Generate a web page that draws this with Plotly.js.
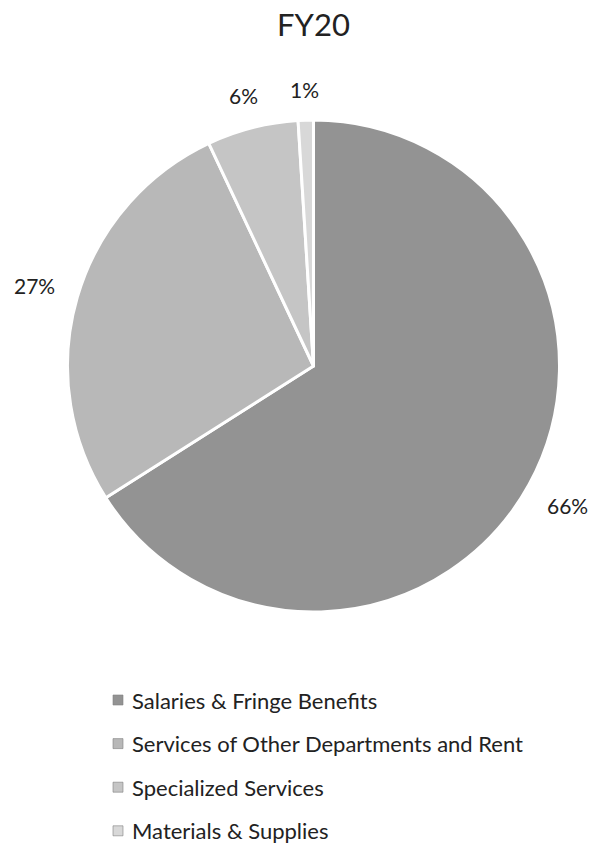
<!DOCTYPE html>
<html>
<head>
<meta charset="utf-8">
<script src="https://cdn.plot.ly/plotly-3.0.1.min.js"></script>
<style>
  html, body { margin: 0; padding: 0; background: #fff; }
  #chart { width: 596px; height: 846px; }
</style>
</head>
<body>
<div id="chart"></div>
<script>
// FY20 expenditure shares
const categories = [
  'Salaries & Fringe Benefits',
  'Services of Other Departments and Rent',
  'Specialized Services',
  'Materials & Supplies'
];
const shares = [66, 27, 6, 1];
const sliceColors = ['#939393', '#b8b8b8', '#c5c5c5', '#d8d8d8'];
const chartTitle = 'FY20';

const W = 596, H = 846;
const FONT = 'Lato, "Open Sans", sans-serif';
const TEXT_COLOR = '#222222';

// pie placement (pixels)
const pieLeft = 67, pieRight = 560, pieTop = 120, pieBottom = 612;
const cx = (pieLeft + pieRight) / 2;
const cy = (pieTop + pieBottom) / 2;
const radius = Math.min(pieRight - pieLeft, pieBottom - pieTop) / 2;

const labelFontSize = 21;
const labelGap = 22;

const measureCtx = document.createElement('canvas').getContext('2d');
function textWidth(str, size) {
  measureCtx.font = size + 'px ' + FONT;
  return measureCtx.measureText(str).width;
}

const total = shares.reduce((a, b) => a + b, 0);
const annotations = [];

// percentage labels placed just outside each slice, at the slice's mid angle
let cum = 0;
shares.forEach((v) => {
  const mid = (cum + v / 2) / total * 2 * Math.PI; // clockwise from 12 o'clock
  cum += v;
  const txt = Math.round(v / total * 100) + '%';
  const hw = textWidth(txt, labelFontSize) / 2;
  const hh = labelFontSize * 0.4;
  const sx = Math.sin(mid), sy = -Math.cos(mid);
  const ext = Math.abs(hw * sx) + Math.abs(hh * sy);
  const d = radius + labelGap + ext;
  const px = cx + d * sx;
  const py = cy + d * sy;
  annotations.push({
    text: txt, xref: 'paper', yref: 'paper',
    x: px / W, y: 1 - py / H, xanchor: 'center', yanchor: 'middle',
    borderpad: 0,
    showarrow: false, font: { family: FONT, size: labelFontSize, color: TEXT_COLOR }
  });
});

// legend: one row per category
const legendX = 113, legendTextX = 131, legendTop = 700, legendStep = 43.6, swatch = 10;
const shapes = [];
categories.forEach((c, i) => {
  const y = legendTop + i * legendStep;
  shapes.push({
    type: 'rect', xref: 'paper', yref: 'paper',
    x0: legendX / W, x1: (legendX + swatch) / W,
    y0: 1 - (y - swatch / 2) / H, y1: 1 - (y + swatch / 2) / H,
    fillcolor: sliceColors[i], line: { color: '#808080', width: 0.6 }
  });
  annotations.push({
    text: c, xref: 'paper', yref: 'paper',
    x: legendTextX / W, y: 1 - y / H, xanchor: 'left', yanchor: 'middle',
    borderpad: 0,
    showarrow: false, font: { family: FONT, size: 22, color: TEXT_COLOR }
  });
});

const data = [{
  type: 'pie',
  labels: categories,
  values: shares,
  sort: false,
  direction: 'clockwise',
  rotation: 0,
  textinfo: 'none',
  hoverinfo: 'label+percent',
  marker: { colors: sliceColors, line: { color: '#ffffff', width: 3 } },
  domain: { x: [pieLeft / W, pieRight / W], y: [1 - pieBottom / H, 1 - pieTop / H] },
  showlegend: false
}];

const layout = {
  width: W, height: H,
  margin: { l: 0, r: 0, t: 0, b: 0 },
  paper_bgcolor: '#ffffff',
  showlegend: false,
  title: {
    text: chartTitle,
    font: { family: FONT, size: 31, color: TEXT_COLOR },
    xref: 'paper', yref: 'paper',
    x: cx / W, xanchor: 'center',
    y: 1 - 25 / H, yanchor: 'middle'
  },
  annotations: annotations,
  shapes: shapes
};

Plotly.newPlot('chart', data, layout, { displayModeBar: false, staticPlot: true });
</script>
</body>
</html>
